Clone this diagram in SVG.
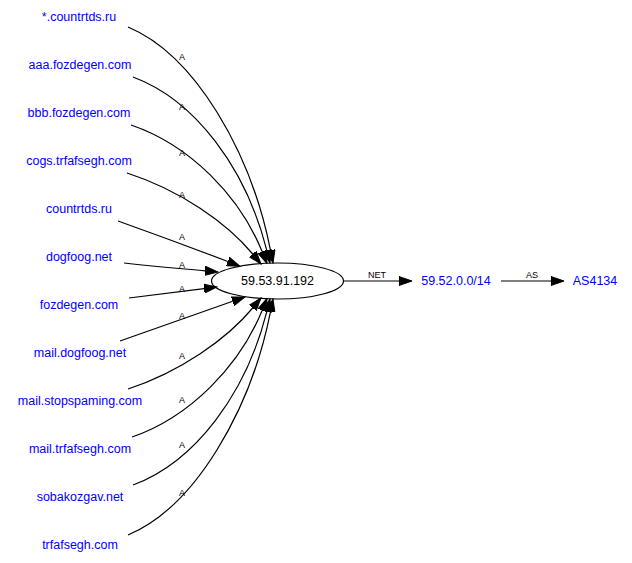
<svg xmlns="http://www.w3.org/2000/svg" width="632" height="563" viewBox="0 0 632 563">
<defs>
<marker id="ah" markerUnits="userSpaceOnUse" markerWidth="14" markerHeight="10" refX="0" refY="5" orient="auto" viewBox="0 0 14 10">
<path d="M0,0.5 L13,5 L0,9.5 z" fill="#000" stroke="#000" stroke-width="1"/>
</marker>
<style>
.n{font-family:"Liberation Sans",Arial,sans-serif;font-size:12.5px;fill:#0000ff;text-anchor:middle}
.c{font-family:"Liberation Sans",Arial,sans-serif;font-size:12.5px;fill:#000;text-anchor:middle}
.l{font-family:"Liberation Sans",Arial,sans-serif;font-size:9px;fill:#000;text-anchor:middle}
.e{fill:none;stroke:#000;stroke-width:1.2;marker-end:url(#ah)}
</style>
</defs>
<rect width="632" height="563" fill="#fff"/>
<g id="connectors">
<path class="e" d="M128,27 C195,55 251,152 270.5,250.3"/>
<path class="e" d="M133,77 C195,100 246,168 266.8,250.4"/>
<path class="e" d="M131,125 C190,145 239.5,196 262.1,251.5"/>
<path class="e" d="M127,173 C180,190 227,223 252.7,254"/>
<path class="e" d="M118,221 C160,236 195,249 227.8,261.5"/>
<path class="e" d="M124,263 C160,267 183,268.7 205.1,270.8"/>
<path class="e" d="M129,298 C160,294 183,291.4 204.1,288.6"/>
<path class="e" d="M120,341 C160,327 200,313 232.7,301.3"/>
<path class="e" d="M128,389 C180,372 227,339 252.7,308"/>
<path class="e" d="M132,437 C190,417 239.5,366 262.1,310.5"/>
<path class="e" d="M133,485 C195,462 246,394 266.8,311.6"/>
<path class="e" d="M128,535 C195,507 251,410 270.5,311.7"/>
<path class="e" d="M343.5,281 L399,281"/>
<path class="e" d="M501,281 L551,281"/>
<text class="l" x="182" y="60">A</text>
<text class="l" x="182" y="110">A</text>
<text class="l" x="182" y="156">A</text>
<text class="l" x="182" y="198">A</text>
<text class="l" x="182" y="240">A</text>
<text class="l" x="182" y="268">A</text>
<text class="l" x="182" y="292">A</text>
<text class="l" x="182" y="319">A</text>
<text class="l" x="182" y="359">A</text>
<text class="l" x="182" y="403">A</text>
<text class="l" x="182" y="448">A</text>
<text class="l" x="182" y="496">A</text>
<text class="l" x="377" y="278">NET</text>
<text class="l" x="532" y="278">AS</text>
</g>
<g id="n_countrtds_wild"><text class="n" x="79" y="21">*.countrtds.ru</text></g>
<g id="n_aaa"><text class="n" x="80" y="69">aaa.fozdegen.com</text></g>
<g id="n_bbb"><text class="n" x="79" y="117">bbb.fozdegen.com</text></g>
<g id="n_cogs"><text class="n" x="79" y="165">cogs.trfafsegh.com</text></g>
<g id="n_countrtds"><text class="n" x="79" y="213">countrtds.ru</text></g>
<g id="n_dogfoog"><text class="n" x="79" y="261">dogfoog.net</text></g>
<g id="n_fozdegen"><text class="n" x="79" y="309">fozdegen.com</text></g>
<g id="n_maildogfoog"><text class="n" x="80" y="357">mail.dogfoog.net</text></g>
<g id="n_mailstop"><text class="n" x="80" y="405">mail.stopspaming.com</text></g>
<g id="n_mailtrf"><text class="n" x="80" y="453">mail.trfafsegh.com</text></g>
<g id="n_sobak"><text class="n" x="80" y="501">sobakozgav.net</text></g>
<g id="n_trf"><text class="n" x="80" y="549">trfafsegh.com</text></g>
<g id="n_ip"><ellipse cx="277.5" cy="281" rx="66" ry="18" fill="none" stroke="#000" stroke-width="1.2"/><text class="c" x="277.5" y="285">59.53.91.192</text></g>
<g id="n_net"><text class="n" x="456" y="285">59.52.0.0/14</text></g>
<g id="n_as"><text class="n" x="595" y="285">AS4134</text></g>
</svg>
